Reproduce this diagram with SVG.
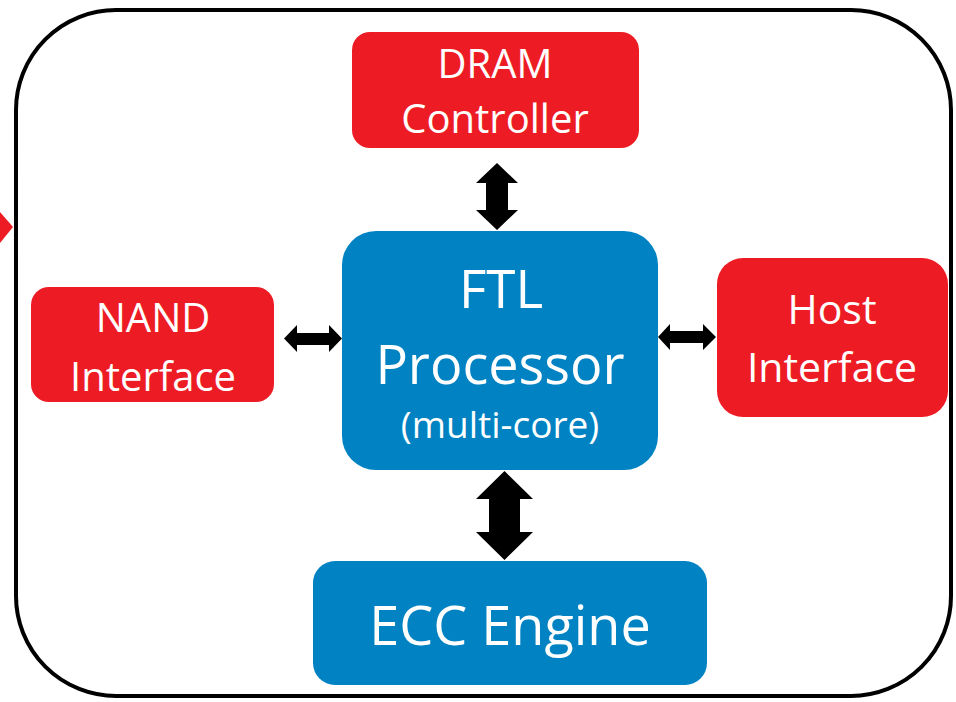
<svg xmlns="http://www.w3.org/2000/svg" width="956" height="702" viewBox="0 0 956 702">
<style>
.red{fill:#ED1C24}
.blue{fill:#0182C2}
.t{font-family:"Open Sans","Liberation Sans",sans-serif;fill:#fff;text-anchor:middle}
.arr{fill:#000}
</style>
<rect width="956" height="702" fill="#fff"/>
<polygon class="red" points="0,212 13,227 0,243"/>
<rect x="16" y="10" width="935" height="686" rx="100" ry="100" fill="none" stroke="#000" stroke-width="4"/>
<g id="connectors">
<polygon class="arr" points="284,338.5 297,325 297,333 329,333 329,325 342,338.5 329,352 329,345 297,345 297,352"/>
<polygon class="arr" points="658,337 670,324 670,331 703,331 703,324 716,337 703,350 703,343 670,343 670,350"/>
<polygon class="arr" points="497,163 518,183 508,183 508,210 518,210 497,230 476,210 486,210 486,183 476,183"/>
<polygon class="arr" points="504.5,471 533,499 520,499 520,532 533,532 504.5,560 476,532 489,532 489,499 476,499"/>
</g>
<g id="dram">
<rect class="red" x="352" y="32" width="287" height="116" rx="18"/>
<text class="t" x="495" y="78" font-size="40">DRAM</text>
<text class="t" x="495" y="133" font-size="40">Controller</text>
</g>
<g id="nand">
<rect class="red" x="31" y="287" width="243" height="115" rx="18"/>
<text class="t" x="153" y="332" font-size="40">NAND</text>
<text class="t" x="153" y="391" font-size="40">Interface</text>
</g>
<g id="host">
<rect class="red" x="717" y="258" width="231" height="159" rx="26"/>
<text class="t" x="832" y="324" font-size="41">Host</text>
<text class="t" x="832" y="382" font-size="41">Interface</text>
</g>
<g id="ftl">
<rect class="blue" x="342" y="231" width="316" height="239" rx="34"/>
<text class="t" x="501" y="308" font-size="53">FTL</text>
<text class="t" x="500" y="384" font-size="54">Processor</text>
<text class="t" x="500" y="438" font-size="37">(multi-core)</text>
</g>
<g id="ecc">
<rect class="blue" x="313" y="561" width="394" height="124" rx="22"/>
<text class="t" x="510" y="645" font-size="54">ECC Engine</text>
</g>
</svg>
